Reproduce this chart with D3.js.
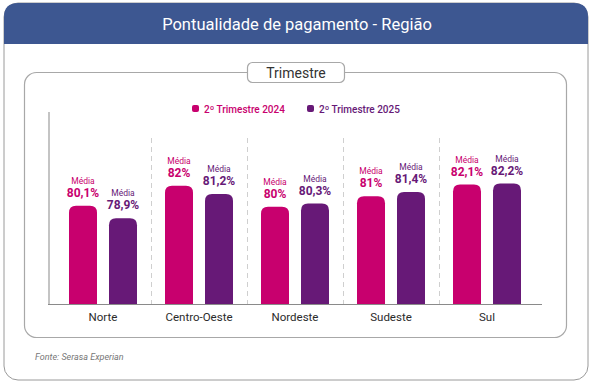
<!DOCTYPE html>
<html>
<head>
<meta charset="utf-8">
<script src="https://cdn.jsdelivr.net/npm/d3@7"></script>
<style>
  body { margin: 0; background: #fff; }
  svg { display: block; font-family: Roboto, 'Noto Sans', sans-serif; }
</style>
</head>
<body>
<div id="chart"></div>
<script>
// data
const regioes = ['Norte', 'Centro-Oeste', 'Nordeste', 'Sudeste', 'Sul'];
const tri2024 = [80.1, 82, 80, 81, 82.1];
const tri2025 = [78.9, 81.2, 80.3, 81.4, 82.2];
const seriesNames = ['2º Trimestre 2024', '2º Trimestre 2025'];
const seriesColors = ['#c8006e', '#671977'];

const W = 595, H = 383;
const svg = d3.select('#chart').append('svg').attr('width', W).attr('height', H);

// outer card with blue header
const card = { x: 4, y: 3, w: 584, h: 377, r: 14 };
svg.append('rect')
    .attr('x', card.x).attr('y', card.y).attr('width', card.w).attr('height', card.h)
    .attr('rx', card.r).attr('fill', '#fff').attr('stroke', '#9a9a9a').attr('stroke-width', 1);
svg.append('path')
    .attr('d', 'M' + card.x + ',44 V' + (card.y + card.r) +
        ' Q' + card.x + ',' + card.y + ' ' + (card.x + card.r) + ',' + card.y +
        ' H' + (card.x + card.w - card.r) +
        ' Q' + (card.x + card.w) + ',' + card.y + ' ' + (card.x + card.w) + ',' + (card.y + card.r) +
        ' V44 Z')
    .attr('fill', '#3d5791');
svg.append('text')
    .attr('x', 297).attr('y', 30)
    .attr('text-anchor', 'middle')
    .attr('fill', '#fff')
    .attr('font-size', 16.5)
    .text('Pontualidade de pagamento - Região');

// inner frame
svg.append('rect')
    .attr('x', 24.5).attr('y', 72.5).attr('width', 542).attr('height', 265)
    .attr('rx', 12).attr('fill', 'none').attr('stroke', '#a8a8a8').attr('stroke-width', 1.2);
svg.append('rect')
    .attr('x', 247.5).attr('y', 62.5).attr('width', 97).attr('height', 20)
    .attr('rx', 5).attr('fill', '#fff').attr('stroke', '#a8a8a8').attr('stroke-width', 1.2);
svg.append('text')
    .attr('x', 296).attr('y', 77.5)
    .attr('text-anchor', 'middle')
    .attr('fill', '#333')
    .attr('font-size', 14)
    .text('Trimestre');

// legend
const legendX = [192, 307];
seriesNames.forEach((name, i) => {
    const lg = svg.append('g').attr('transform', 'translate(' + legendX[i] + ',105)');
    lg.append('rect').attr('width', 7).attr('height', 7).attr('rx', 2).attr('fill', seriesColors[i]);
    lg.append('text')
        .attr('x', 12).attr('y', 7.5)
        .attr('fill', seriesColors[i])
        .attr('font-size', 10)
        .attr('font-weight', 500)
        .text(name);
});

// scales
const x = d3.scaleBand().domain(regioes).range([55, 535]);
const xSub = d3.scaleBand().domain([0, 1]).range([14, 82]).paddingInner(0.3);
const y = d3.scaleLinear().domain([70.75, 89]).range([304, 112]);

// dashed separators between groups
svg.append('g')
    .selectAll('line')
    .data(regioes.slice(1))
    .join('line')
    .attr('x1', d => x(d) + 0.5).attr('x2', d => x(d) + 0.5)
    .attr('y1', 138).attr('y2', 304)
    .attr('stroke', '#cfcfcf')
    .attr('stroke-width', 1)
    .attr('stroke-dasharray', '5,4');

// bars
function topRounded(x0, y0, w, h, r) {
    r = Math.min(r, w / 2, h);
    return 'M' + x0 + ',' + (y0 + h) +
        ' V' + (y0 + r) +
        ' Q' + x0 + ',' + y0 + ' ' + (x0 + r) + ',' + y0 +
        ' H' + (x0 + w - r) +
        ' Q' + (x0 + w) + ',' + y0 + ' ' + (x0 + w) + ',' + (y0 + r) +
        ' V' + (y0 + h) + ' Z';
}

const barData = [];
regioes.forEach((reg, i) => {
    [tri2024[i], tri2025[i]].forEach((v, s) => barData.push({ reg: reg, s: s, v: v }));
});

const bars = svg.append('g');
bars.selectAll('path')
    .data(barData)
    .join('path')
    .attr('d', d => topRounded(x(d.reg) + xSub(d.s), y(d.v), xSub.bandwidth(), y.range()[0] - y(d.v), 7))
    .attr('fill', d => seriesColors[d.s]);

const labels = svg.append('g').attr('text-anchor', 'middle');
labels.selectAll('text.media')
    .data(barData)
    .join('text')
    .attr('class', 'media')
    .attr('x', d => x(d.reg) + xSub(d.s) + xSub.bandwidth() / 2)
    .attr('y', d => y(d.v) - 22)
    .attr('fill', d => seriesColors[d.s])
    .attr('font-size', 8.5)
    .text('Média');
labels.selectAll('text.val')
    .data(barData)
    .join('text')
    .attr('class', 'val')
    .attr('x', d => x(d.reg) + xSub(d.s) + xSub.bandwidth() / 2)
    .attr('y', d => y(d.v) - 9)
    .attr('fill', d => seriesColors[d.s])
    .attr('font-size', 12)
    .attr('font-weight', 700)
    .text(d => String(d.v).replace('.', ',') + '%');

// axes
svg.append('line')
    .attr('x1', 49).attr('x2', 49).attr('y1', y.range()[1]).attr('y2', 304)
    .attr('stroke', '#c4c4c4').attr('stroke-width', 2);
const xAxis = svg.append('g')
    .attr('transform', 'translate(0,304)')
    .call(d3.axisBottom(x).tickSize(0).tickPadding(9));
xAxis.select('.domain').attr('d', 'M48,0.5H542').attr('stroke', '#8a8a8a').attr('stroke-width', 1.2);
xAxis.selectAll('text')
    .attr('font-family', 'Roboto, sans-serif')
    .attr('font-size', 11.5)
    .attr('fill', '#2b2b2b');

// source
svg.append('text')
    .attr('x', 35).attr('y', 360)
    .attr('fill', '#777')
    .attr('font-size', 9)
    .attr('font-style', 'italic')
    .text('Fonte: Serasa Experian');
</script>
</body>
</html>
